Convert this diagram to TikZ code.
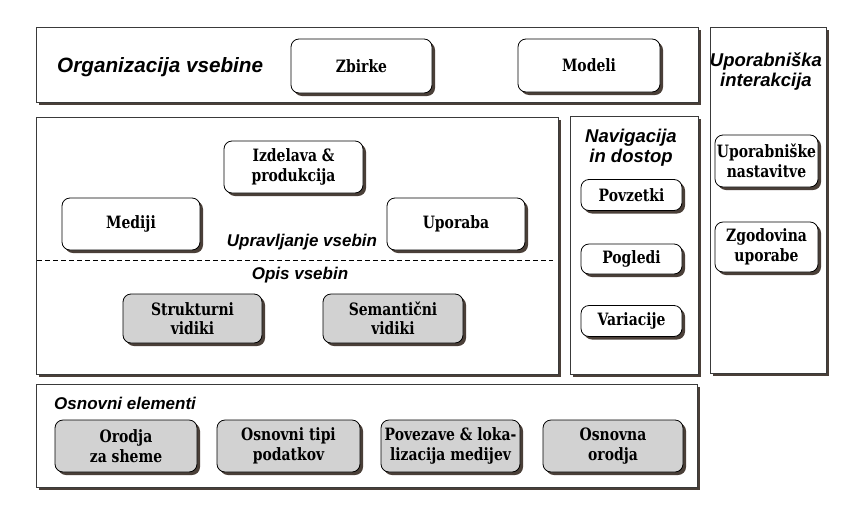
\documentclass[tikz,border=0pt]{standalone}
\usepackage{fontspec}
\setmainfont{DejaVu Serif}[FakeStretch=0.82]
\newfontfamily\lsans{Liberation Sans}
\usetikzlibrary{shadows}
\definecolor{shadowc}{HTML}{4A3F38}
\definecolor{grayfill}{HTML}{D2D2D2}
\definecolor{framec}{HTML}{3A3A3A}
\tikzset{
  panel/.style={draw=framec, line width=0.8pt, fill=white,
    general shadow={shadow xshift=3pt, shadow yshift=-3pt, fill=shadowc}},
  boxbase/.style={draw=black, line width=0.8pt, rounded corners=8pt, inner sep=0pt,
    align=center, font=\fontsize{17}{19.5}\selectfont\bfseries,
    general shadow={shadow xshift=3pt, shadow yshift=-3pt, fill=shadowc}},
  wbox/.style={boxbase, fill=white},
  gbox/.style={boxbase, fill=grayfill},
  ilabel/.style={font=\lsans\fontsize{17}{20}\selectfont\bfseries\itshape, align=center, inner sep=0pt},
  sidelabel/.style={font=\lsans\fontsize{18.5}{20}\selectfont\bfseries\itshape, align=center, inner sep=0pt},
  bigilabel/.style={font=\lsans\fontsize{20.7}{22}\selectfont\bfseries\itshape, inner sep=0pt},
  divider/.style={line width=0.8pt, dash pattern=on 5pt off 3pt}
}
\begin{document}
\begin{tikzpicture}[x=1pt,y=-1pt]
\useasboundingbox (0,0) rectangle (851,517);
% panels
\path[panel] (36,27) rectangle (698,102);
\path[panel] (36,117) rectangle (558,374);
\path[panel] (570,116) rectangle (698,374);
\path[panel] (710,27) rectangle (826,373);
\path[panel] (36,384) rectangle (697,487);
% top panel
\node[bigilabel, anchor=west] (org) at (57,67) {Organizacija vsebine};
\node[wbox, minimum width=141pt, minimum height=54pt] (zbirke) at (361.5,66) {Zbirke};
\node[wbox, minimum width=142pt, minimum height=53pt] (modeli) at (589,65.5) {Modeli};
% middle panel
\node[wbox, minimum width=139pt, minimum height=52pt] (izdelava) at (293.5,167) {Izdelava \&\\produkcija};
\node[wbox, minimum width=138pt, minimum height=52pt] (mediji) at (131,224) {Mediji};
\node[wbox, minimum width=138pt, minimum height=52pt] (uporaba) at (456,224) {Uporaba};
\node[ilabel] (uprav) at (302,242) {Upravljanje vsebin};
\coordinate (dl) at (37,260);
\coordinate (dr) at (553,260);
\draw[divider] (dl) -- (dr);
\node[ilabel] (opis) at (300,275) {Opis vsebin};
\node[gbox, minimum width=139pt, minimum height=49pt] (strukt) at (192.5,318.5) {Strukturni\\vidiki};
\node[gbox, minimum width=140pt, minimum height=49pt] (seman) at (393,318.5) {Semantični\\vidiki};
% navigation panel
\node[sidelabel] (nav) at (631,148) {Navigacija\\in dostop};
\node[wbox, minimum width=101pt, minimum height=31pt] (povz) at (631.5,195) {Povzetki};
\node[wbox, minimum width=101pt, minimum height=30pt] (pogl) at (631.5,259) {Pogledi};
\node[wbox, minimum width=101pt, minimum height=31pt] (vari) at (631.5,321) {Variacije};
% user interaction panel
\node[sidelabel] (upint) at (766,72) {Uporabniška\\interakcija};
\node[wbox, minimum width=103pt, minimum height=52pt] (nast) at (766.5,161) {Uporabniške\\nastavitve};
\node[wbox, minimum width=103pt, minimum height=50pt] (zgod) at (766.5,247) {Zgodovina\\uporabe};
% bottom panel
\node[ilabel, anchor=west] (osn) at (54,403) {Osnovni elementi};
\node[gbox, minimum width=142pt, minimum height=52pt] (orodja) at (126,446) {Orodja\\za sheme};
\node[gbox, minimum width=143pt, minimum height=52pt] (tipi) at (288.5,446) {Osnovni tipi\\podatkov};
\node[gbox, minimum width=139pt, minimum height=52pt] (povez) at (450.5,446) {Povezave \& loka-\\lizacija medijev};
\node[gbox, minimum width=140pt, minimum height=52pt] (osnor) at (613,446) {Osnovna\\orodja};
\end{tikzpicture}
\end{document}
